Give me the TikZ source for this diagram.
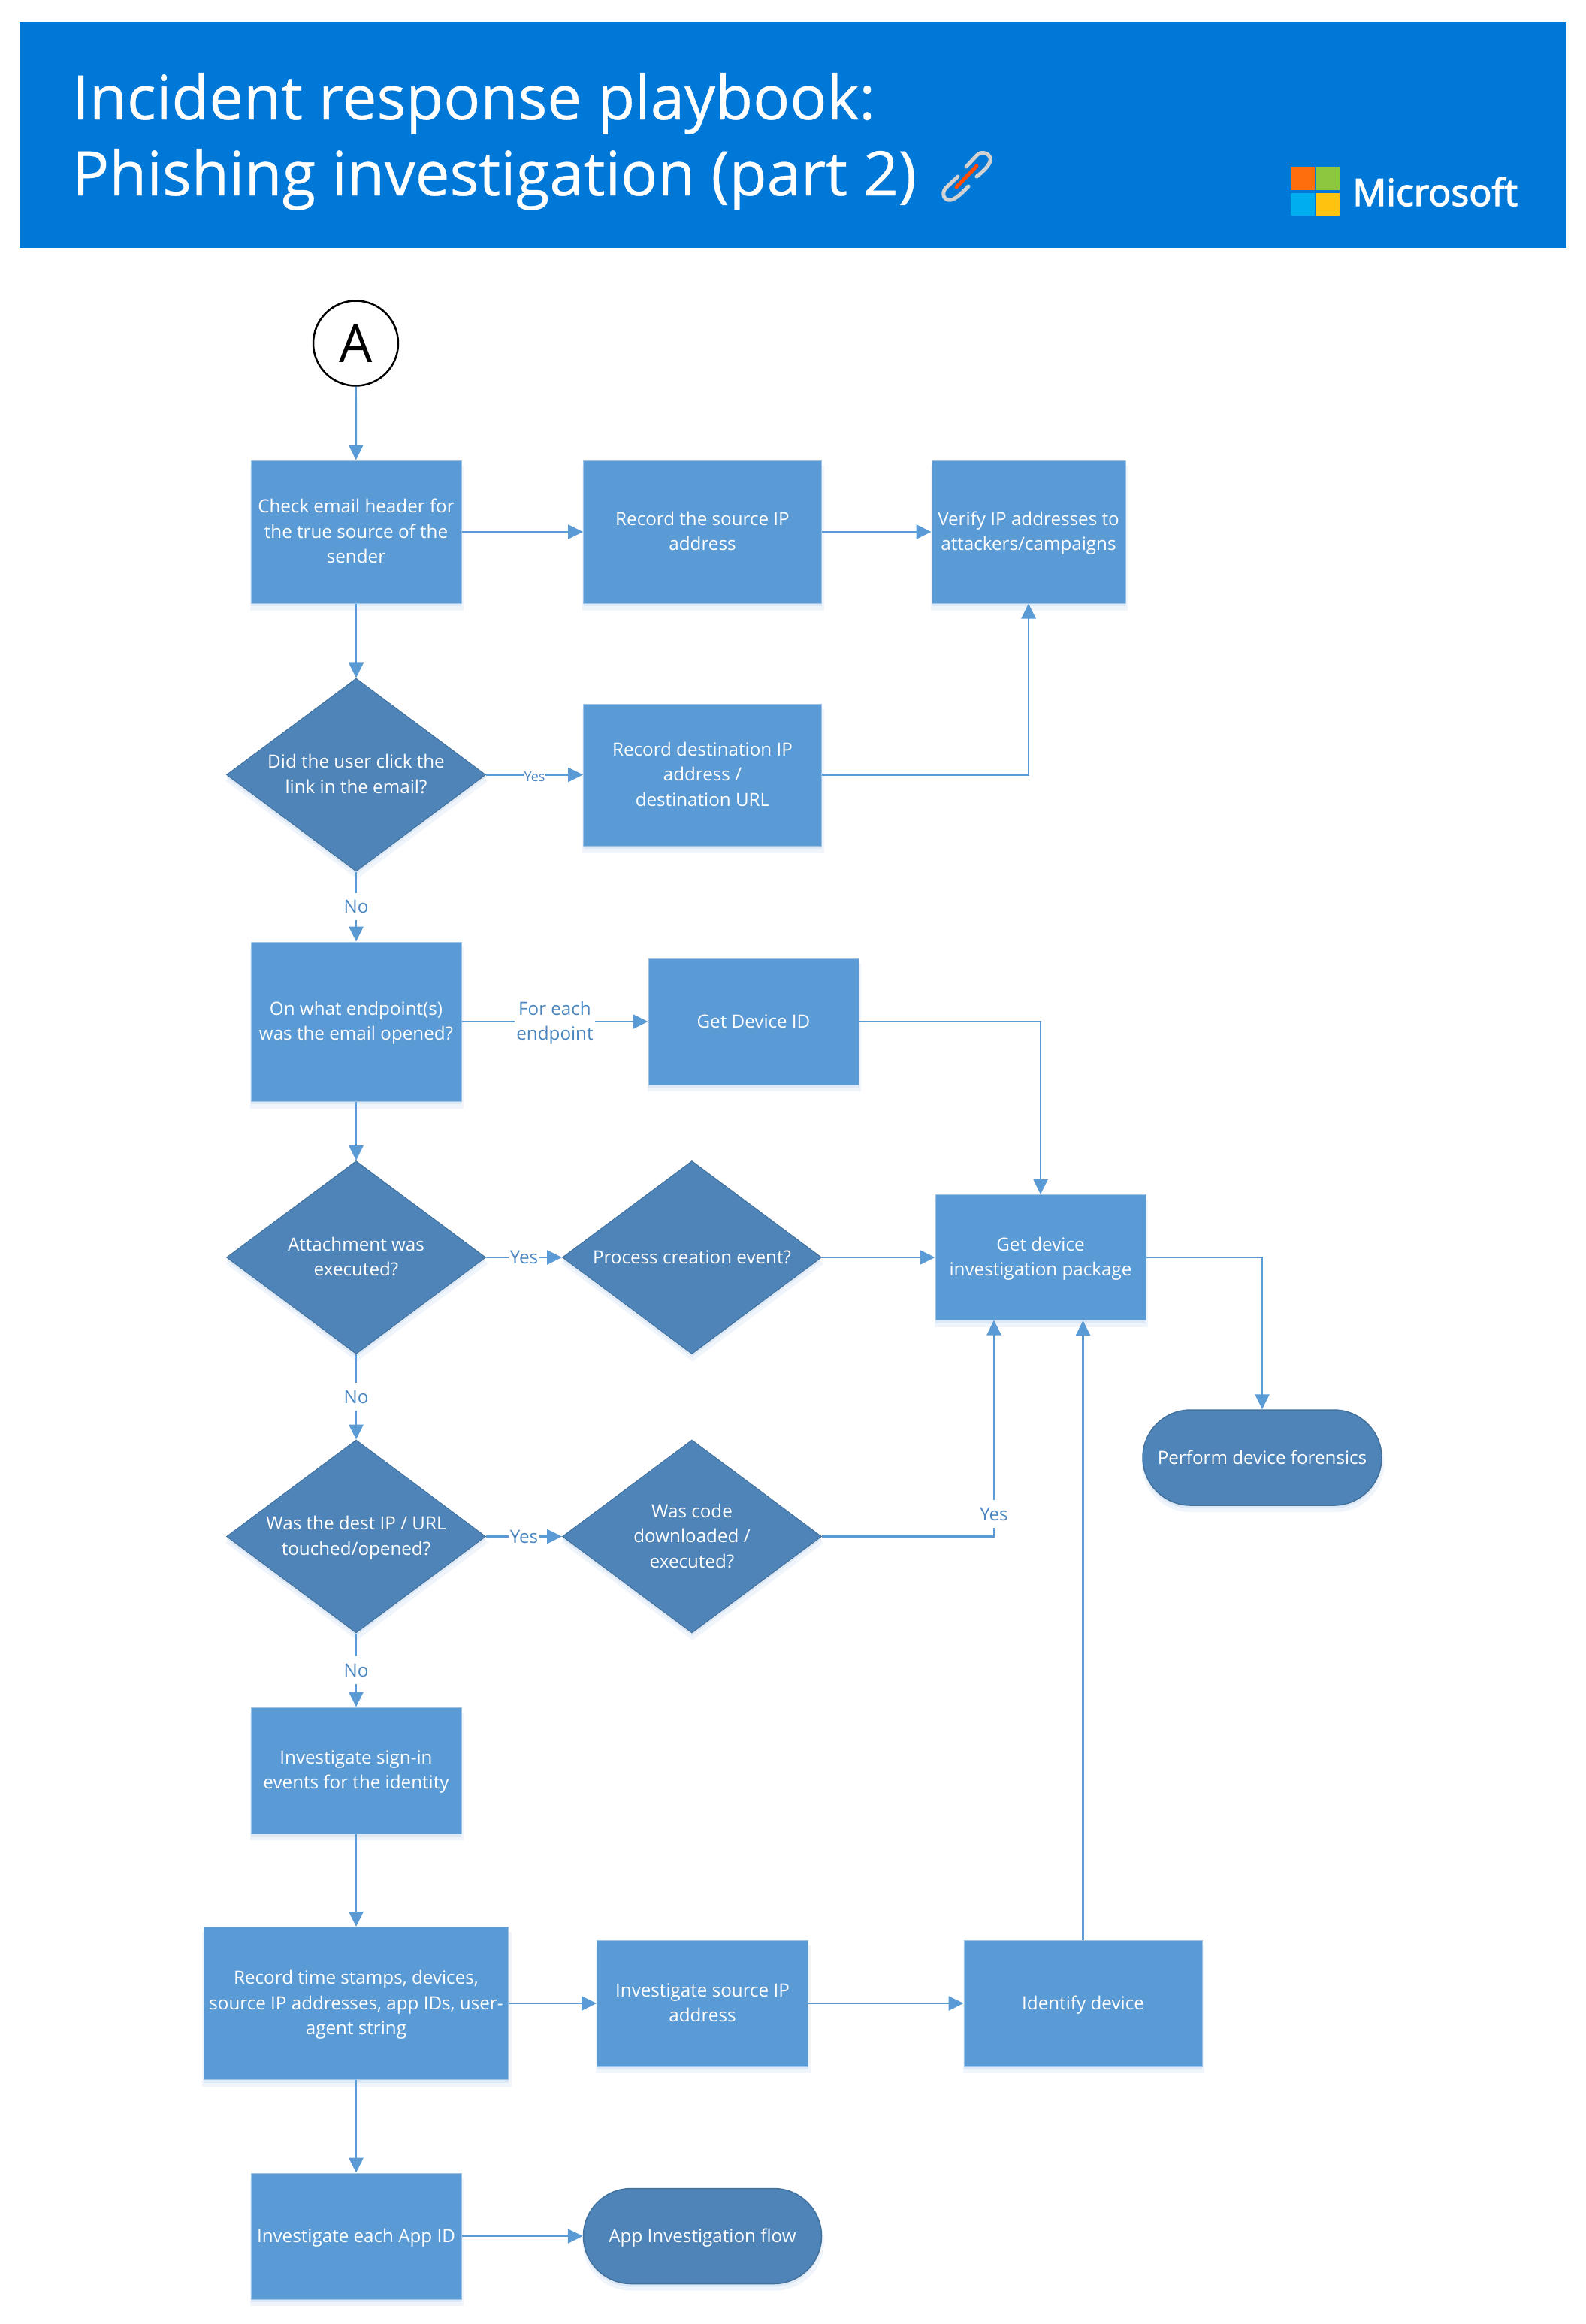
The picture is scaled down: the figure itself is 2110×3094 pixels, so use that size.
\documentclass[tikz,border=0pt]{standalone}
\usepackage{fontspec}
\setmainfont{Open Sans}
\newfontfamily\logofont[FakeBold=2.5]{Open Sans}
\newfontfamily\headfont[FakeBold=0.4]{Open Sans}
\usetikzlibrary{arrows.meta,shapes.geometric,shapes.misc,shadows}

\definecolor{bannerblue}{HTML}{0078D7}
\definecolor{boxblue}{HTML}{5B9BD5}
\definecolor{deepblue}{HTML}{4F84B8}
\definecolor{deepedge}{HTML}{41719C}
\definecolor{labelblue}{HTML}{4A86C0}
\definecolor{softouter}{HTML}{F0F5FB}
\definecolor{softinner}{HTML}{DDE9F6}

% same height and depth on the first and the last line of a label
\newcommand\lnstrut{\rule[-7.6pt]{0pt}{32.6pt}}
\newcommand\lntop{\rule{0pt}{24pt}}

\tikzset{
    softdrop/.style={general shadow={fill=softouter,shadow yshift=-8pt,shadow xshift=1pt,shadow scale=1.015},
        general shadow={fill=softinner,shadow yshift=-4pt}},
    txt/.style={text=white,align=center,font=\fontsize{24.2}{33.5}\selectfont,inner sep=0pt,
        execute at begin node=\lnstrut},
    stepbox/.style={txt,rectangle,fill=boxblue,draw=boxblue!60!white,line width=1pt,softdrop},
    decision/.style={txt,diamond,shape aspect=1.34,fill=deepblue,draw=deepedge,line width=1pt,softdrop,
        minimum width=345pt,minimum height=257pt},
    terminal/.style={txt,rounded rectangle,fill=deepblue,draw=deepedge,line width=1.5pt,softdrop},
    flow/.style={draw=boxblue,line width=2.7pt,-{Triangle[length=20pt,width=19pt]}},
    lbl/.style={fill=white,text=labelblue,align=center,font=\fontsize{24.2}{33.5}\selectfont,inner sep=2pt,
        execute at begin node=\lnstrut},
    tinylbl/.style={lbl,font=\fontsize{18}{20}\selectfont,inner sep=1pt},
    titletxt/.style={text=white,anchor=base west,inner sep=0pt,font=\headfont\fontsize{81.5}{100}\selectfont},
}

\begin{document}
\begin{tikzpicture}[x=1pt,y=-1pt]
    \useasboundingbox (0,0) rectangle (2110,3094);

    % --- BANNER ---
    \fill[bannerblue] (26,29) rectangle (2085,329.5);
    \node[titletxt] (titleA) at (96,159) {Incident response playbook:};
    \node[titletxt] (titleB) at (96,260) {Phishing investigation (part 2)};

    % paper clip
    \draw[line width=5pt,black!18,line cap=round] (1286,222) -- (1300,207) .. controls (1306,200) and (1320,204) .. (1318,214) .. controls (1317,220) and (1309,228) .. (1300,235);
    \draw[line width=5pt,black!18,line cap=round] (1275,235) -- (1259,250) .. controls (1252,258) and (1257,268) .. (1266,266) .. controls (1274,264) and (1282,255) .. (1289,248);
    \draw[line width=5pt,orange!60!red,line cap=round] (1300,221) -- (1273,249);

    % logo
    \fill[fill=orange!80!red!95!white] (1718,222) rectangle (1750,253);
    \fill[fill={rgb,255:red,141;green,198;blue,63}] (1752,222) rectangle (1783,253);
    \fill[fill={rgb,255:red,0;green,173;blue,239}] (1718,257) rectangle (1750,287);
    \fill[fill={rgb,255:red,255;green,194;blue,14}] (1752,257) rectangle (1783,287);
    \node[text=white,anchor=base west,inner sep=0pt,font=\logofont\fontsize{50}{60}\selectfont] (logo) at (1800,274) {Microsoft};

    % --- START ---
    \node[circle,draw=black,line width=2.5pt,fill=white,minimum size=113pt,inner sep=0pt,font=\fontsize{70}{70}\selectfont] (start) at (473.5,457) {A};

    % --- LEFT COLUMN ---
    \node[stepbox,minimum width=280pt,minimum height=190pt] (header) at (474,708) {\lntop Check email header for\\the true source of the\\sender\lnstrut};
    \node[decision] (clicked) at (474,1031.5) {\lntop Did the user click the\\link in the email?\lnstrut};
    \node[stepbox,minimum width=280pt,minimum height=212pt] (endpoint) at (474,1360) {\lntop On what endpoint(s)\\was the email opened?\lnstrut};
    \node[decision] (executed) at (474,1674) {\lntop Attachment was\\executed?\lnstrut};
    \node[decision] (touched) at (474,2045.5) {\lntop Was the dest IP / URL\\touched/opened?\lnstrut};
    \node[stepbox,minimum width=280pt,minimum height=168pt] (signin) at (474,2357) {\lntop Investigate sign-in\\events for the identity\lnstrut};
    \node[stepbox,minimum width=405pt,minimum height=203pt] (stamps) at (474,2667) {\lntop Record time stamps, devices,\\source IP addresses, app IDs, user-\\agent string\lnstrut};
    \node[stepbox,minimum width=280pt,minimum height=168pt] (appid) at (474,2977) {Investigate each App ID};

    % --- MIDDLE ---
    \node[stepbox,minimum width=317pt,minimum height=190pt] (srcip) at (935,708) {\lntop Record the source IP\\address\lnstrut};
    \node[stepbox,minimum width=317pt,minimum height=189pt] (destip) at (935,1031.5) {\lntop Record destination IP\\address /\\destination URL\lnstrut};
    \node[stepbox,minimum width=280pt,minimum height=168pt] (deviceid) at (1003,1360) {Get Device ID};
    \node[decision] (process) at (921,1674) {Process creation event?};
    \node[decision] (code) at (921,2045.5) {\lntop Was code\\downloaded /\\executed?\lnstrut};
    \node[stepbox,minimum width=281pt,minimum height=168pt] (srcaddr) at (935,2667) {\lntop Investigate source IP\\address\lnstrut};
    \node[terminal,minimum width=317pt,minimum height=127pt] (appflow) at (935,2977) {App Investigation flow};

    % --- RIGHT ---
    \node[stepbox,minimum width=258pt,minimum height=190pt] (verify) at (1369,708) {\lntop Verify IP addresses to\\attackers/campaigns\lnstrut};
    \node[stepbox,minimum width=280pt,minimum height=167pt] (package) at (1385,1674) {\lntop Get device\\investigation package\lnstrut};
    \node[terminal,minimum width=318pt,minimum height=127pt] (forensics) at (1680,1940.5) {Perform device forensics};
    \node[stepbox,minimum width=317pt,minimum height=168pt] (identify) at (1441.5,2667) {Identify device};
    \coordinate (packin) at (1323,1757.5);

    % --- CONNECTORS ---
    \draw[flow] (start) -- (header);
    \draw[flow] (header) -- (srcip);
    \draw[flow] (srcip) -- (verify);
    \draw[flow] (header) -- (clicked);
    \draw[flow] (clicked) -- node[tinylbl] {Yes} (destip);
    \draw[flow] (destip) -| (verify);
    \draw[flow] (clicked) -- node[lbl] {No} (endpoint);
    \draw[flow] (endpoint) -- node[lbl] {\lntop For each\\endpoint\lnstrut} (deviceid);
    \draw[flow] (deviceid) -| (package);
    \draw[flow] (endpoint) -- (executed);
    \draw[flow] (executed) -- node[lbl] {Yes} (process);
    \draw[flow] (process) -- (package);
    \draw[flow] (executed) -- node[lbl] {No} (touched);
    \draw[flow] (touched) -- node[lbl] {Yes} (code);
    \draw[flow] (code) -| node[lbl,pos=.552] {Yes} (packin);
    \draw[flow] (touched) -- node[lbl] {No} (signin);
    \draw[flow] (package) -| (forensics);
    \draw[flow] (signin) -- (stamps);
    \draw[flow] (stamps) -- (srcaddr);
    \draw[flow] (srcaddr) -- (identify);
    \draw[flow] (identify) -- (identify |- package.south);
    \draw[flow] (stamps) -- (appid);
    \draw[flow] (appid) -- (appflow);
\end{tikzpicture}
\end{document}
